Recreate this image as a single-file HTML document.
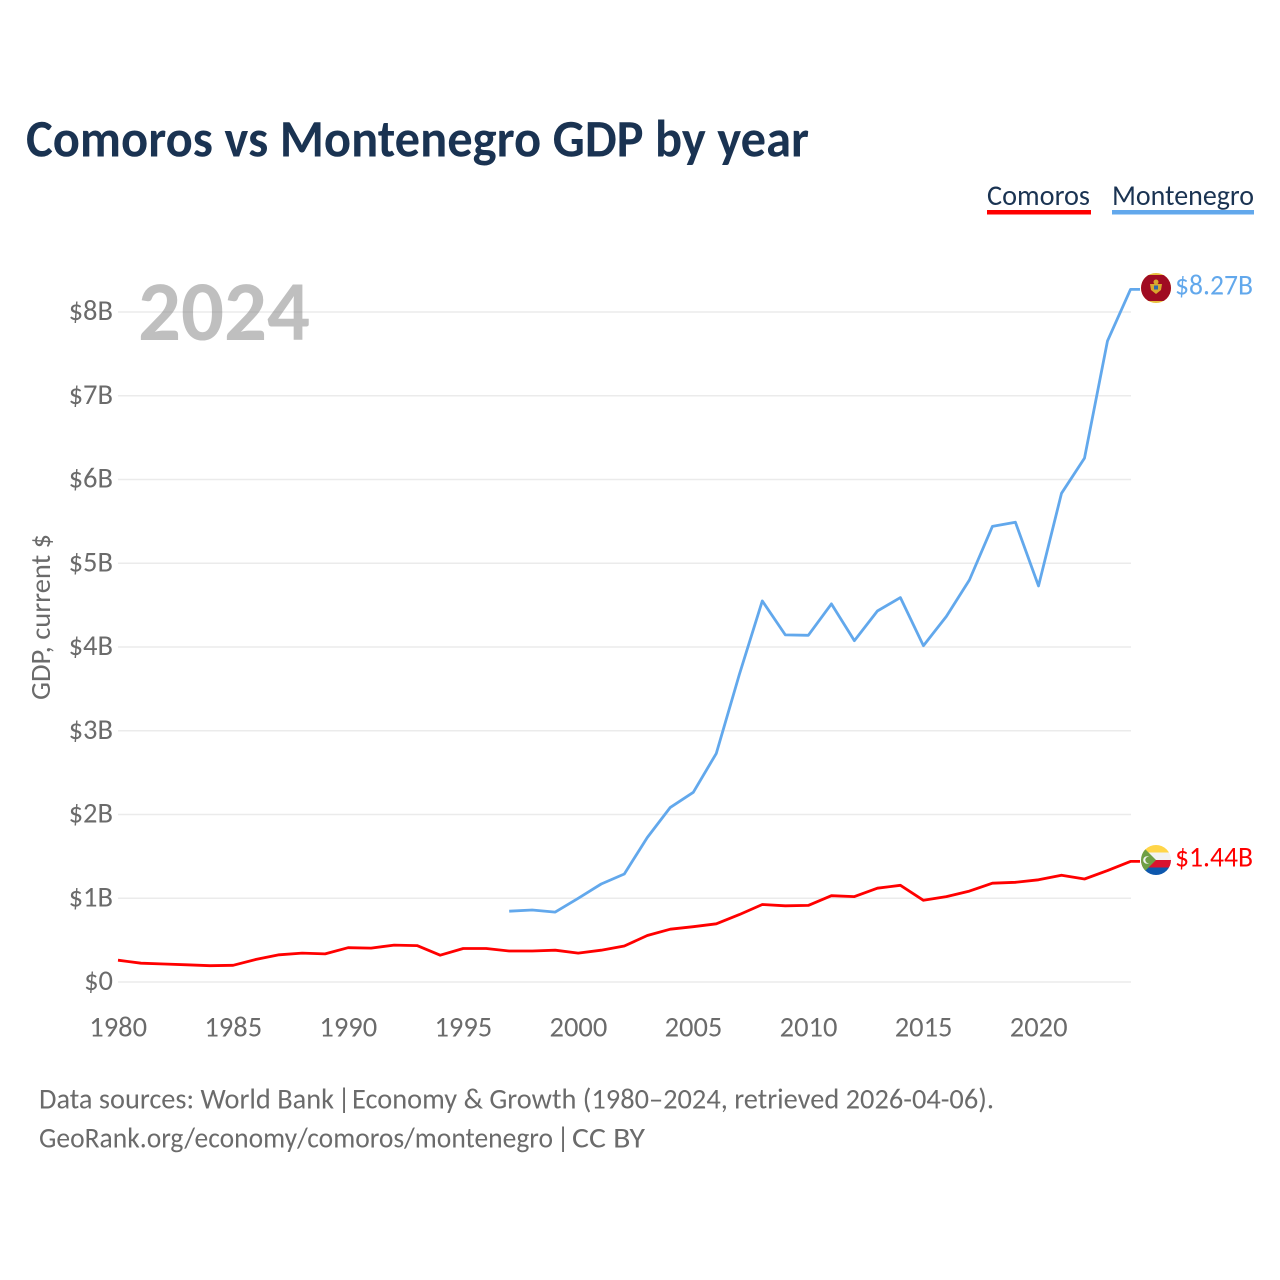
<!DOCTYPE html>
<html lang="en">
<head>
<meta charset="utf-8">
<title>Comoros vs Montenegro GDP by year</title>
<style>
html,body{margin:0;padding:0;background:#fff;width:1280px;height:1280px;overflow:hidden}
svg{display:block}
text{font-family:"Carlito","Liberation Sans","DejaVu Sans",sans-serif}
</style>
</head>
<body>
<svg id="chart" xmlns="http://www.w3.org/2000/svg" width="1280" height="1280" viewBox="0 0 1280 1280">
  <rect width="1280" height="1280" fill="#fff"/>
  <text x="26" y="156.500" font-size="53" font-weight="700" fill="#1a3352" textLength="783" lengthAdjust="spacingAndGlyphs">Comoros vs Montenegro GDP by year</text>

  <g>
    <g>
      <text x="987" y="205" font-size="29" fill="#1a3352" textLength="103" lengthAdjust="spacingAndGlyphs">Comoros</text>
      <rect x="987" y="210" width="104" height="4.500" fill="#ff0000"/>
    </g>
    <g>
      <text x="1112" y="205" font-size="29" fill="#1a3352" textLength="142" lengthAdjust="spacingAndGlyphs">Montenegro</text>
      <rect x="1112" y="210" width="142" height="4.500" fill="#62a8ec"/>
    </g>
  </g>

  <g id="grid"></g>
  <g id="yticks"></g>
  <g id="xticks"></g>

  <text x="138" y="340" font-size="85" font-weight="700" fill="#7f7f7f" fill-opacity="0.5" textLength="172" lengthAdjust="spacingAndGlyphs">2024</text>
  <text transform="translate(50,700) rotate(-90)" font-size="27.500" fill="#6b6b6b" textLength="166" lengthAdjust="spacingAndGlyphs">GDP, current $</text>

  <g id="series"></g>

  <defs>
    <clipPath id="clip-me"><circle cx="1156" cy="288" r="15"/></clipPath>
    <clipPath id="clip-km"><circle cx="1156" cy="860" r="15"/></clipPath>
  </defs>

  <g clip-path="url(#clip-me)">
    <rect x="1141" y="273" width="30" height="30" fill="#e8bf3f"/>
    <rect x="1141" y="275" width="30" height="26" fill="#a00c22"/>
    <path d="M1150 284h12l-1 6-5 4-5-4z" fill="#d9a92e"/>
    <rect x="1154" y="285.500" width="4" height="4" fill="#2f6aa8"/>
    <circle cx="1156" cy="282" r="2.500" fill="#d9a92e"/>
  </g>
  <g clip-path="url(#clip-km)">
    <rect x="1141" y="845" width="30" height="7.500" fill="#ffd548"/>
    <rect x="1141" y="852.500" width="30" height="7.500" fill="#f2f2f2"/>
    <rect x="1141" y="860" width="30" height="7.500" fill="#d9132f"/>
    <rect x="1141" y="867.500" width="30" height="7.500" fill="#0d57ad"/>
    <path d="M1141 845L1156 860L1141 875z" fill="#6f9f45"/>
    <circle cx="1147" cy="860" r="3.800" fill="#f2f2f2"/>
    <circle cx="1148.500" cy="860" r="3.200" fill="#6f9f45"/>
  </g>

  <text x="1175" y="294.500" font-size="28.500" fill="#62a8ec" textLength="78" lengthAdjust="spacingAndGlyphs">$8.27B</text>
  <text x="1175" y="866.500" font-size="28.500" fill="#ff0000" textLength="78" lengthAdjust="spacingAndGlyphs">$1.44B</text>

  <g font-size="28.500" fill="#6b6b6b">
    <text x="39" y="1108.500" textLength="295" lengthAdjust="spacingAndGlyphs">Data sources: World Bank</text>
    <text x="337.500" y="1108.500">|</text>
    <text x="352" y="1108.500" textLength="642" lengthAdjust="spacingAndGlyphs">Economy &amp; Growth (1980–2024, retrieved 2026-04-06).</text>
  </g>
  <g font-size="28.500" fill="#6b6b6b">
    <text x="39" y="1147.500" textLength="514" lengthAdjust="spacingAndGlyphs">GeoRank.org/economy/comoros/montenegro</text>
    <text x="556.500" y="1147.500">|</text>
    <text x="572" y="1147.500" textLength="73" lengthAdjust="spacingAndGlyphs">CC BY</text>
  </g>
</svg>
<script>
const comorosYears = [1980,1981,1982,1983,1984,1985,1986,1987,1988,1989,1990,1991,1992,1993,1994,1995,1996,1997,1998,1999,2000,2001,2002,2003,2004,2005,2006,2007,2008,2009,2010,2011,2012,2013,2014,2015,2016,2017,2018,2019,2020,2021,2022,2023,2024];
const comorosGdp = [0.26,0.225,0.215,0.205,0.195,0.2,0.27,0.325,0.345,0.335,0.41,0.405,0.44,0.435,0.32,0.40,0.40,0.37,0.37,0.38,0.345,0.38,0.43,0.555,0.63,0.66,0.695,0.805,0.925,0.91,0.915,1.03,1.02,1.12,1.155,0.975,1.02,1.085,1.18,1.19,1.22,1.275,1.23,1.33,1.44];
const montenegroYears = [1997,1998,1999,2000,2001,2002,2003,2004,2005,2006,2007,2008,2009,2010,2011,2012,2013,2014,2015,2016,2017,2018,2019,2020,2021,2022,2023,2024];
const montenegroGdp = [0.845,0.86,0.835,1.0,1.17,1.29,1.725,2.085,2.265,2.73,3.67,4.55,4.145,4.14,4.515,4.075,4.43,4.59,4.015,4.365,4.8,5.44,5.49,4.73,5.835,6.255,7.655,8.27];
const yTickValues = [0,1,2,3,4,5,6,7,8];
const yTickLabels = ['$0','$1B','$2B','$3B','$4B','$5B','$6B','$7B','$8B'];
const xTickValues = [1980,1985,1990,1995,2000,2005,2010,2015,2020];

const NS = 'http://www.w3.org/2000/svg';
const plotLeft = 118, plotRight = 1130.5, plotBottom = 982, plotTop = 312;
const xScale = year => plotLeft + (year - 1980) * (plotRight - plotLeft) / (2024 - 1980);
const yScale = value => plotBottom - value * (plotBottom - plotTop) / 8;

function make(tag, attrs, parent, content) {
  const el = document.createElementNS(NS, tag);
  Object.keys(attrs).forEach(k => el.setAttribute(k, attrs[k]));
  if (content !== undefined) el.textContent = content;
  parent.appendChild(el);
  return el;
}

const grid = document.getElementById('grid');
const yticks = document.getElementById('yticks');
const xticks = document.getElementById('xticks');
const series = document.getElementById('series');

yTickValues.forEach((v, i) => {
  const line = make('line', {x1: plotLeft, x2: plotRight + 0.5, y1: yScale(v), y2: yScale(v), stroke: '#ebebeb', 'stroke-width': 1.5}, grid);
  
  
  const label = make('text', {x: 113, y: yScale(v) + 8, 'text-anchor': 'end', 'font-size': 28.5, fill: '#6b6b6b'}, yticks, yTickLabels[i]);
  
  
});

xTickValues.forEach(year => {
  const label = make('text', {x: xScale(year) + 0.2, y: 1036.5, 'text-anchor': 'middle', 'font-size': 28.5, fill: '#6b6b6b'}, xticks, String(year));
  
  
});

function drawSeries(years, values, color, name) {
  const pts = years.map((y, i) => [xScale(y), yScale(values[i])]);
  const last = pts[pts.length - 1];
  let d = pts.map((p, i) => (i ? 'L' : 'M') + p[0].toFixed(1) + ' ' + p[1].toFixed(1)).join('');
  d += 'L' + (last[0] + 9.5).toFixed(1) + ' ' + last[1].toFixed(1);
  const path = make('path', {d: d, fill: 'none', stroke: color, 'stroke-width': 2.8, 'stroke-linejoin': 'round'}, series);
  
  
}

drawSeries(montenegroYears, montenegroGdp, '#62a8ec', 'line-montenegro');
drawSeries(comorosYears, comorosGdp, '#ff0000', 'line-comoros');
</script>
</body>
</html>
